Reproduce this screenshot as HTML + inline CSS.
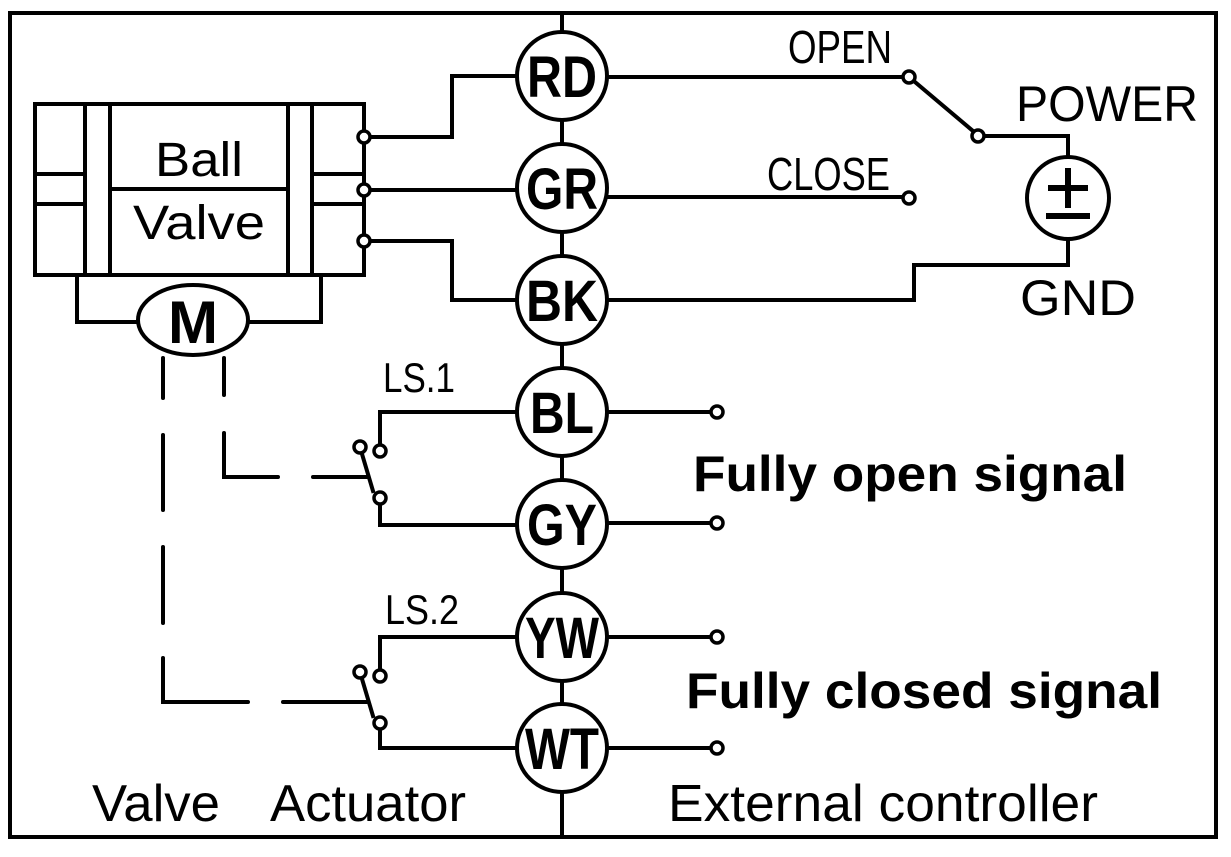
<!DOCTYPE html>
<html><head><meta charset="utf-8"><style>html,body{margin:0;padding:0;background:#fff}svg{display:block}</style></head><body>
<svg width="1231" height="857" viewBox="0 0 1231 857" xmlns="http://www.w3.org/2000/svg" font-family="Liberation Sans, Arial, sans-serif">
<g fill="none" stroke="#000" stroke-width="4" stroke-linecap="square">
<rect x="10" y="13" width="1206" height="824"/>
<line x1="562" y1="13" x2="562" y2="837"/>
<rect x="35" y="104" width="329" height="171"/>
<line x1="85" y1="104" x2="85" y2="275"/><line x1="110" y1="104" x2="110" y2="275"/>
<line x1="288" y1="104" x2="288" y2="275"/><line x1="312" y1="104" x2="312" y2="275"/>
<line x1="35" y1="174" x2="85" y2="174"/><line x1="35" y1="204" x2="85" y2="204"/>
<line x1="312" y1="174" x2="364" y2="174"/><line x1="312" y1="204" x2="364" y2="204"/>
<line x1="110" y1="189" x2="288" y2="189"/>
<polyline points="77,275 77,322 138,322"/><polyline points="321,275 321,322 248,322"/>
<polyline points="371,137 452,137 452,76 517,76"/>
<line x1="371" y1="190" x2="517" y2="190"/>
<polyline points="371,241 452,241 452,300 517,300"/>
<g stroke-linecap="round">
<line x1="163" y1="358" x2="163" y2="398"/><line x1="163" y1="435" x2="163" y2="510"/>
<line x1="163" y1="547" x2="163" y2="623"/><polyline points="163,658 163,702 248,702"/>
<line x1="283" y1="702" x2="367" y2="702"/>
<line x1="224" y1="358" x2="224" y2="395"/><polyline points="224,433 224,477 278,477"/>
<line x1="313" y1="477" x2="367" y2="477"/>
</g>
<polyline points="380,444 380,412 517,412"/><polyline points="380,505 380,525 517,525"/>
<line x1="362" y1="454" x2="373" y2="491"/>
<polyline points="380,669 380,637 517,637"/><polyline points="380,730 380,748 517,748"/>
<line x1="362" y1="679" x2="373" y2="716"/>
<line x1="608" y1="77" x2="903" y2="77"/>
<line x1="915" y1="82" x2="973" y2="131"/>
<polyline points="985,136 1068,136 1068,157"/>
<line x1="608" y1="197" x2="903" y2="197"/>
<polyline points="1068,239 1068,265 914,265 914,300 608,300"/>
<line x1="608" y1="412" x2="710" y2="412"/><line x1="608" y1="523" x2="710" y2="523"/>
<line x1="608" y1="637" x2="710" y2="637"/><line x1="608" y1="748" x2="710" y2="748"/>
</g>
<g fill="#fff" stroke="#000" stroke-width="4">
<ellipse cx="193" cy="320" rx="55" ry="35"/>
<ellipse cx="562" cy="76" rx="45" ry="44"/><ellipse cx="562" cy="188" rx="45" ry="44"/>
<ellipse cx="562" cy="300" rx="45" ry="44"/><ellipse cx="562" cy="412" rx="45" ry="44"/>
<ellipse cx="562" cy="524" rx="45" ry="44"/><ellipse cx="562" cy="637" rx="45" ry="44"/>
<ellipse cx="562" cy="748" rx="45" ry="44"/>
<circle cx="1068" cy="198" r="41"/>
</g>
<g fill="#fff" stroke="#000" stroke-width="3.5">
<circle cx="364" cy="137" r="6"/><circle cx="364" cy="190" r="6"/><circle cx="364" cy="241" r="6"/>
<circle cx="360" cy="447" r="6"/><circle cx="380" cy="451" r="6"/><circle cx="380" cy="498" r="6"/>
<circle cx="360" cy="672" r="6"/><circle cx="380" cy="676" r="6"/><circle cx="380" cy="723" r="6"/>
<circle cx="909" cy="77" r="6"/><circle cx="978" cy="136" r="6"/><circle cx="909" cy="198" r="6"/>
<circle cx="717" cy="412" r="6"/><circle cx="717" cy="523" r="6"/><circle cx="717" cy="637" r="6"/><circle cx="717" cy="748" r="6"/>
</g>
<g stroke="#000" stroke-width="6"><line x1="1068" y1="168" x2="1068" y2="208"/><line x1="1048" y1="188" x2="1088" y2="188"/><line x1="1046" y1="216" x2="1090" y2="216"/></g>
<g fill="#000" font-weight="bold" font-size="58" text-anchor="middle">
<text x="193" y="343" textLength="50" lengthAdjust="spacingAndGlyphs" font-size="60">M</text>
<text x="562" y="97" textLength="70" lengthAdjust="spacingAndGlyphs">RD</text>
<text x="562" y="209" textLength="72" lengthAdjust="spacingAndGlyphs">GR</text>
<text x="562" y="321" textLength="72" lengthAdjust="spacingAndGlyphs">BK</text>
<text x="562" y="433" textLength="64" lengthAdjust="spacingAndGlyphs">BL</text>
<text x="562" y="545" textLength="70" lengthAdjust="spacingAndGlyphs">GY</text>
<text x="562" y="658" textLength="74" lengthAdjust="spacingAndGlyphs">YW</text>
<text x="562" y="769" textLength="74" lengthAdjust="spacingAndGlyphs">WT</text>
</g>
<g fill="#000" font-size="48">
<text x="155" y="176" textLength="88" lengthAdjust="spacingAndGlyphs">Ball</text>
<text x="133" y="239" textLength="132" lengthAdjust="spacingAndGlyphs">Valve</text>
<text x="383" y="392" font-size="42" textLength="72" lengthAdjust="spacingAndGlyphs">LS.1</text>
<text x="385" y="624" font-size="42" textLength="74" lengthAdjust="spacingAndGlyphs">LS.2</text>
<text x="788" y="63" font-size="46" textLength="104" lengthAdjust="spacingAndGlyphs">OPEN</text>
<text x="767" y="190" font-size="46" textLength="123" lengthAdjust="spacingAndGlyphs">CLOSE</text>
<text x="1016" y="121" font-size="50" textLength="182" lengthAdjust="spacingAndGlyphs">POWER</text>
<text x="1020" y="315" font-size="50" textLength="116" lengthAdjust="spacingAndGlyphs">GND</text>
<text x="693" y="491" font-weight="bold" font-size="50" textLength="434" lengthAdjust="spacingAndGlyphs">Fully open signal</text>
<text x="686" y="708" font-weight="bold" font-size="50" textLength="476" lengthAdjust="spacingAndGlyphs">Fully closed signal</text>
<text x="92" y="821" font-size="52" textLength="128" lengthAdjust="spacingAndGlyphs">Valve</text>
<text x="270" y="821" font-size="52" textLength="196" lengthAdjust="spacingAndGlyphs">Actuator</text>
<text x="668" y="821" font-size="52" textLength="430" lengthAdjust="spacingAndGlyphs">External controller</text>
</g>
</svg>
</body></html>
